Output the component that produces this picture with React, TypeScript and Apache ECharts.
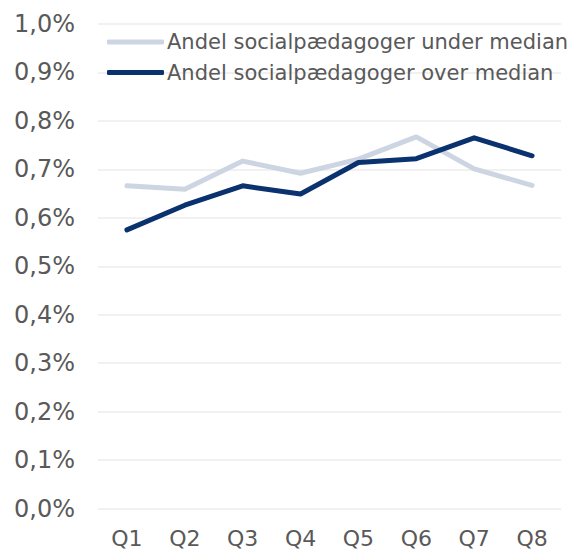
import React, { useEffect, useRef } from "react";
import * as echarts from "echarts";

const categories = ["Q1", "Q2", "Q3", "Q4", "Q5", "Q6", "Q7", "Q8"];
const underMedian = [0.666, 0.659, 0.717, 0.692, 0.721, 0.767, 0.701, 0.667];
const overMedian = [0.575, 0.626, 0.666, 0.649, 0.714, 0.722, 0.765, 0.728];
const seriesNames = ["Andel socialpædagoger under median", "Andel socialpædagoger over median"];

export default function App() {
  const ref = useRef<HTMLDivElement>(null);
  useEffect(() => {
    const chart = echarts.init(ref.current!, null, { renderer: "svg" });
    const font = "DejaVu Sans, Verdana, sans-serif";
    chart.setOption({
      animation: false,
      grid: { left: 98, right: 13, top: 24, bottom: 45.5 },
      legend: {
        orient: "vertical",
        left: 107,
        top: 31.5,
        padding: 0,
        itemWidth: 57,
        itemHeight: 5,
        itemGap: 9.5,
        icon: "roundRect",
        textStyle: { fontFamily: font, fontSize: 21, color: "#595959", padding: [0, 0, 0, -2] },
        data: seriesNames,
      },
      xAxis: {
        type: "category",
        data: categories,
        boundaryGap: true,
        axisLine: { show: false },
        axisTick: { show: false },
        axisLabel: { fontFamily: font, fontSize: 22, color: "#595959", margin: 19 },
      },
      yAxis: {
        type: "value",
        min: 0,
        max: 1,
        interval: 0.1,
        axisLine: { show: false },
        axisTick: { show: false },
        splitLine: { lineStyle: { color: "#ededed", width: 1.5 } },
        axisLabel: {
          fontFamily: font,
          fontSize: 24,
          color: "#595959",
          margin: 23,
          formatter: (v: number) => v.toFixed(1).replace(".", ",") + "%",
        },
      },
      series: [
        {
          name: seriesNames[0],
          type: "line",
          data: underMedian,
          symbol: "none",
          lineStyle: { color: "#cdd5e3", width: 5, cap: "round", join: "round" },
          itemStyle: { color: "#cdd5e3" },
        },
        {
          name: seriesNames[1],
          type: "line",
          data: overMedian,
          symbol: "none",
          lineStyle: { color: "#0a326e", width: 5, cap: "round", join: "round" },
          itemStyle: { color: "#0a326e" },
        },
      ],
    });
    return () => chart.dispose();
  }, []);
  return <div ref={ref} style={{ width: 574, height: 554, position: "absolute", left: 0, top: 0 }} />;
}
